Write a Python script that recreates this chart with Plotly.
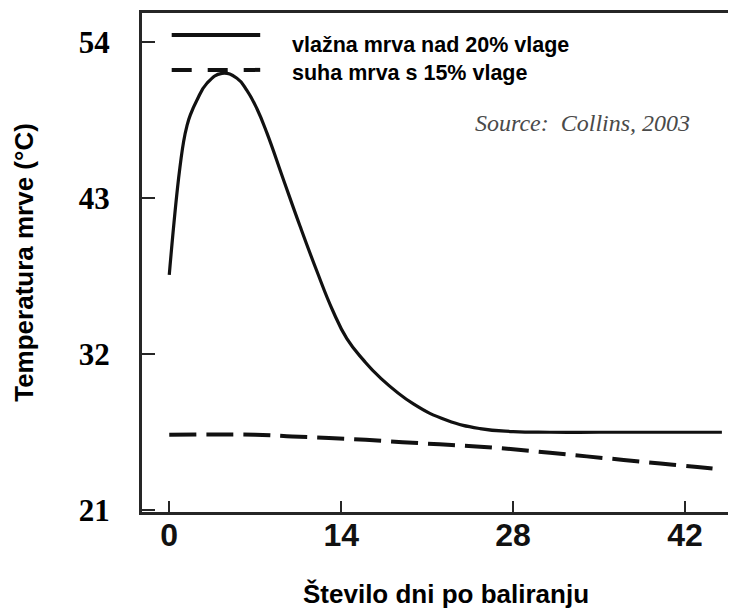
import plotly.graph_objects as go

# ---- data ----
days_wet = [0, 0.76, 1.17, 1.44, 1.71, 2.25, 3.07, 4.29, 5.51, 6.32, 7.14, 7.95, 9.3, 10.66, 12.0, 13.3, 14.46, 15.8, 17.17, 19.88, 22.6, 25.3, 28.0, 31.0, 35.0, 40.0, 45.0]
temp_wet = [37.6, 44.4, 47.0, 48.1, 48.85, 49.9, 51.1, 51.8, 51.45, 50.6, 49.3, 47.6, 44.3, 41.0, 37.9, 35.1, 33.1, 31.6, 30.35, 28.5, 27.35, 26.76, 26.55, 26.5, 26.5, 26.5, 26.5]

days_dry = [0, 7, 10, 13, 16, 19, 22, 25, 28, 31, 34, 37, 40, 43, 45]
temp_dry = [26.33, 26.33, 26.2, 26.1, 25.97, 25.8, 25.65, 25.5, 25.3, 25.05, 24.8, 24.55, 24.3, 24.05, 23.87]

x_ticks = [0, 14, 28, 42]
y_ticks = [21, 32, 43, 54]
series_names = ["vlažna mrva nad 20% vlage", "suha mrva s 15% vlage"]
x_title = "Število dni po baliranju"
y_title = "Temperatura mrve (°C)"
source_text = "Source:\u00a0\u00a0Collins, 2003"

INK = "#111111"
AXIS = "#262626"
SANS = "Liberation Sans, Arial"
SERIF = "Liberation Serif, Times New Roman"

fig = go.Figure()
fig.add_trace(go.Scatter(x=days_wet, y=temp_wet, mode="lines", name=series_names[0],
                         line=dict(color=INK, width=3.2, shape="spline", smoothing=1.3)))
fig.add_trace(go.Scatter(x=days_dry, y=temp_dry, mode="lines", name=series_names[1],
                         line=dict(color=INK, width=4, shape="spline", dash="27px,10px")))

# legend samples (paper coordinates)
fig.add_shape(type="line", xref="paper", yref="paper", x0=0.05, x1=0.199, y0=0.956, y1=0.956,
              line=dict(color=INK, width=4))
fig.add_shape(type="line", xref="paper", yref="paper", x0=0.05, x1=0.199, y0=0.886, y1=0.886,
              line=dict(color=INK, width=4, dash="20px,16px"))
fig.add_annotation(xref="paper", yref="paper", x=0.249, y=0.936, xanchor="left", yanchor="middle",
                   text=series_names[0], showarrow=False,
                   font=dict(family=SANS, size=21.5, color="#000", weight="bold"))
fig.add_annotation(xref="paper", yref="paper", x=0.249, y=0.88, xanchor="left", yanchor="middle",
                   text=series_names[1], showarrow=False,
                   font=dict(family=SANS, size=21.5, color="#000", weight="bold"))
fig.add_annotation(xref="paper", yref="paper", x=0.557, y=0.779, xanchor="left", yanchor="middle",
                   text=source_text, showarrow=False,
                   font=dict(family=SERIF, size=24, color="#4a4a4a", style="italic"))
# x-axis title (placed as annotation for exact position)
fig.add_annotation(xref="paper", yref="paper", x=0.5126, y=-0.164, xanchor="center", yanchor="middle",
                   text=x_title, showarrow=False,
                   font=dict(family=SANS, size=26, color="#000", weight="bold"))

# the page body has an 8px margin, so the figure is sized 8px smaller on each axis
fig.update_layout(
    width=728, height=602,
    margin=dict(l=134, r=0, t=5, b=98, autoexpand=False),
    plot_bgcolor="white", paper_bgcolor="white",
    showlegend=False,
)
fig.update_xaxes(
    range=[-2.22, 46.15], tickvals=x_ticks, ticks="inside", ticklen=11, tickwidth=2, tickcolor=AXIS,
    showline=True, linewidth=3, linecolor=AXIS, mirror=True, showgrid=False, zeroline=False,
    automargin=False,
    tickfont=dict(family=SANS, size=32, color="#111", weight="bold"),
    ticklabelstandoff=-7,
)
fig.update_yaxes(
    range=[20.88, 56.05], tickvals=y_ticks, ticks="inside", ticklen=13, tickwidth=2, tickcolor=AXIS,
    showline=True, linewidth=3, linecolor=AXIS, mirror=False, showgrid=False, zeroline=False,
    automargin=False,
    tickfont=dict(family=SERIF, size=31, color="#000", weight="bold"),
    ticklabelstandoff=23,
    title=dict(text=y_title, standoff=38,
               font=dict(family=SANS, size=26, color="#000", weight="bold")),
)

fig.write_html("out.html")
